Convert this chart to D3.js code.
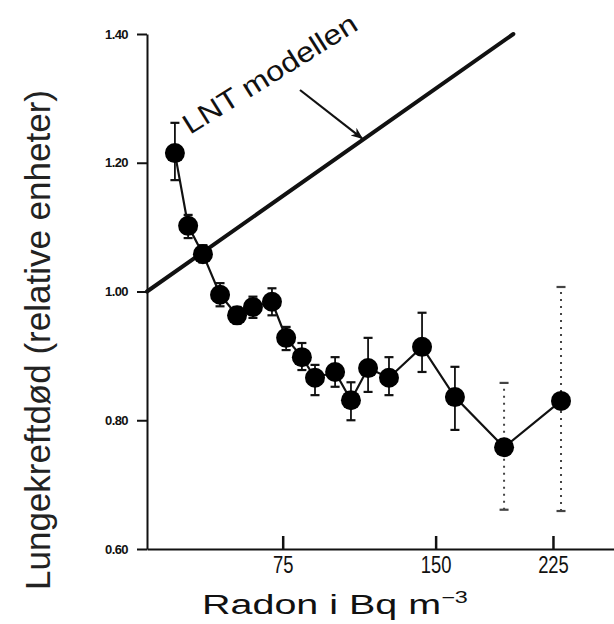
<!DOCTYPE html>
<html>
<head>
<meta charset="utf-8">
<script src="https://cdn.jsdelivr.net/npm/d3@7"></script>
<style>
  html, body { margin: 0; padding: 0; background: #fff; }
  svg { display: block; font-family: "Liberation Sans", Arial, sans-serif; }
</style>
</head>
<body>
<svg id="chart" width="614" height="624"></svg>
<script>
// ---- data ----
const radon     = [37.6, 41.5, 46.1, 51.7, 57.6, 63.4, 70.7, 76.4, 83.0, 88.7, 97.8, 105.3, 113.7, 124.4, 142.3, 161.3, 191.9, 230.7];
const mortality = [1.215, 1.102, 1.058, 0.995, 0.963, 0.976, 0.984, 0.928, 0.898, 0.866, 0.875, 0.831, 0.881, 0.866, 0.914, 0.836, 0.758, 0.830];
const errLow    = [1.173, 1.083, 1.045, 0.977, 0.950, 0.959, 0.963, 0.909, 0.878, 0.839, 0.852, 0.800, 0.844, 0.839, 0.875, 0.785, 0.661, 0.659];
const errHigh   = [1.262, 1.119, 1.072, 1.013, 0.976, 0.992, 1.005, 0.945, 0.920, 0.886, 0.898, 0.859, 0.928, 0.898, 0.967, 0.883, 0.858, 1.007];
const lntRadon  = [30, 198];
const lntValue  = [1.00, 1.40];
const arrowRadon = [82.2, 110.7];
const arrowValue = [1.313, 1.238];
const lntLabel  = "LNT modellen";
const lntLabelPos = [42.1, 1.243];
const xTickVals = [75, 150, 225];
const xTickLabels = ["75", "150", "225"];
const yTickVals = [0.6, 0.8, 1.0, 1.2, 1.4];
const yTickLabels = ["0.60", "0.80", "1.00", "1.20", "1.40"];
const xTitle = "Radon i Bq m";
const xTitleSup = "\u22123";
const yTitle = "Lungekreftdød (relative enheter)";

// ---- scales ----
const svg = d3.select("#chart");
const x = d3.scalePow().exponent(0.5).domain([30, 270]).range([147, 614]);
const y = d3.scaleLinear().domain([0.6, 1.4]).range([549, 34]);
const ink = "#111";

// ---- axes ----
const yAxis = d3.axisLeft(y).tickValues(yTickVals)
  .tickFormat((d, i) => yTickLabels[i]).tickSize(10).tickSizeOuter(0).tickPadding(9);
const gy = svg.append("g").attr("transform", `translate(${x(30)},0)`).call(yAxis);
gy.select(".domain").attr("stroke", ink).attr("stroke-width", 2);
gy.selectAll(".tick line").attr("stroke", ink).attr("stroke-width", 2);
gy.selectAll(".tick text").attr("fill", ink).attr("font-size", 13).attr("font-weight", "bold")
  .attr("font-family", "'Liberation Sans', Arial, sans-serif").attr("letter-spacing", -0.6);

const xAxis = d3.axisBottom(x).tickValues(xTickVals)
  .tickFormat((d, i) => xTickLabels[i]).tickSizeInner(-13).tickSizeOuter(0).tickPadding(8);
const gx = svg.append("g").attr("transform", `translate(0,${y(0.6)})`).call(xAxis);
gx.select(".domain").attr("stroke", ink).attr("stroke-width", 2);
gx.selectAll(".tick line").attr("stroke", ink).attr("stroke-width", 2.5);
gx.selectAll(".tick text").attr("fill", ink).attr("font-size", 23)
  .attr("font-family", "'Liberation Sans', Arial, sans-serif")
  .attr("transform", "scale(0.8,1)");

// ---- LNT line ----
const lntPts = lntRadon.map((r, i) => [x(r), y(lntValue[i])]);
svg.append("path").attr("d", d3.line()(lntPts))
  .attr("fill", "none").attr("stroke", ink).attr("stroke-width", 4).attr("stroke-linecap", "round");

// ---- arrow ----
const defs = svg.append("defs");
defs.append("marker").attr("id", "arr").attr("viewBox", "0 0 10 10")
  .attr("refX", 9).attr("refY", 5).attr("markerWidth", 12).attr("markerHeight", 12)
  .attr("markerUnits", "userSpaceOnUse").attr("orient", "auto")
  .append("path").attr("d", "M0,1 L10,5 L0,9 L3,5 Z").attr("fill", ink);
const arrPts = arrowRadon.map((r, i) => [x(r), y(arrowValue[i])]);
svg.append("path").attr("d", d3.line()(arrPts))
  .attr("fill", "none").attr("stroke", ink).attr("stroke-width", 2.2).attr("marker-end", "url(#arr)");

// ---- LNT label ----
const lg = svg.append("g");
const lt = lg.append("text").text(lntLabel).attr("font-size", 28).attr("fill", ink);
const lw = lt.node().getComputedTextLength();
lg.attr("transform", `translate(${x(lntLabelPos[0])},${y(lntLabelPos[1])}) rotate(-32) scale(${200 / lw},1)`);

// ---- data line ----
const pts = radon.map((r, i) => [x(r), y(mortality[i])]);
svg.append("path").attr("d", d3.line()(pts))
  .attr("fill", "none").attr("stroke", ink).attr("stroke-width", 2.2);

// ---- error bars ----
const eb = svg.append("g");
radon.forEach((r, i) => {
  const dashed = r > 180;
  const cx = x(r);
  const g = eb.append("g").attr("stroke", dashed ? "#444" : ink);
  g.append("line").attr("x1", cx).attr("x2", cx).attr("y1", y(errLow[i])).attr("y2", y(errHigh[i]))
    .attr("stroke-width", dashed ? 2 : 1.8).attr("stroke-dasharray", dashed ? "2,5" : null);
  [errLow[i], errHigh[i]].forEach(v => {
    g.append("line").attr("x1", cx - 4.5).attr("x2", cx + 4.5).attr("y1", y(v)).attr("y2", y(v))
      .attr("stroke-width", 2.2);
  });
});

// ---- points ----
svg.append("g").selectAll("circle").data(radon).join("circle")
  .attr("cx", d => x(d)).attr("cy", (d, i) => y(mortality[i])).attr("r", 10).attr("fill", "#000");

// ---- titles ----
const xg = svg.append("g");
const xt = xg.append("text").attr("font-size", 27).attr("fill", ink);
xt.append("tspan").text(xTitle);
xt.append("tspan").text(xTitleSup).attr("font-size", 16).attr("dy", -11);
const xw = xt.node().getComputedTextLength();
xg.attr("transform", `translate(202,614) scale(${266 / xw},1)`);

const yg = svg.append("g");
const yt = yg.append("text").text(yTitle).attr("font-size", 36).attr("fill", "#222");
const yw = yt.node().getComputedTextLength();
yg.attr("transform", `translate(50,590) rotate(-90) scale(${500 / yw},1)`);
</script>
</body>
</html>
